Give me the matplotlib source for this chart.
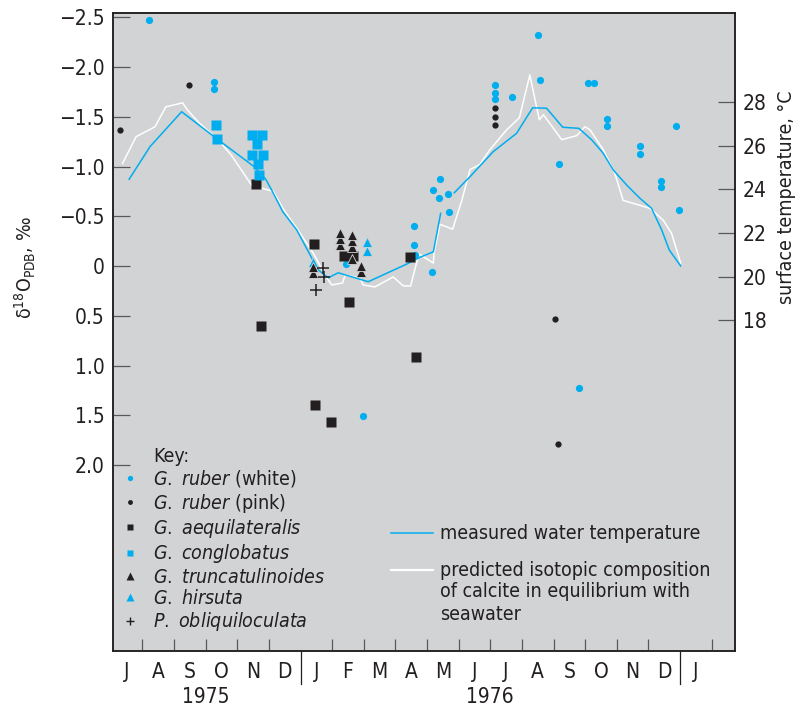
import numpy as np
import matplotlib
matplotlib.use("Agg")
import matplotlib.pyplot as plt
import matplotlib.transforms as mtransforms
from matplotlib import font_manager as fm
from matplotlib.lines import Line2D

# pick a narrow sans face if one is installed, otherwise Liberation Sans
_condensed = [f for f in fm.fontManager.ttflist
              if f.name == "DejaVu Sans" and "ondensed" in (str(f.stretch) + f.fname)]
if _condensed:
    FACE, FS, FS_TXT = "DejaVu Sans", 15, 14
    plt.rcParams["font.stretch"] = "condensed"
    suffix = ":stretch=condensed"
else:
    FACE, FS, FS_TXT = "Liberation Sans", 14, 13
    suffix = ""
plt.rcParams["font.family"] = [FACE, "DejaVu Sans"]
plt.rcParams["mathtext.fontset"] = "custom"
plt.rcParams["mathtext.rm"] = FACE + suffix
plt.rcParams["mathtext.it"] = FACE + ":italic" + suffix
plt.rcParams["mathtext.bf"] = FACE + ":bold" + suffix
plt.rcParams["axes.unicode_minus"] = True

BG = "#d1d3d4"
CYAN = "#00aeef"
INK = "#231f20"
TICK = "#58595b"

# ---- data (x = months since 1 July 1975) ----
month_labels = ["J", "A", "S", "O", "N", "D", "J", "F", "M", "A", "M", "J",
                "J", "A", "S", "O", "N", "D", "J"]
year_labels = ["1975", "1976"]
year_centres = [3, 12]
year_breaks = [6, 18]

d18o_ticks = [-2.5, -2.0, -1.5, -1.0, -0.5, 0, 0.5, 1.0, 1.5, 2.0]
d18o_ticklabels = ["\u22122.5", "\u22122.0", "\u22121.5", "\u22121.0", "\u22120.5",
                   "0", "0.5", "1.0", "1.5", "2.0"]
temp_ticks = [18, 20, 22, 24, 26, 28]

ruber_white_month = [1.22, 3.27, 3.27, 7.44, 7.98, 9.60, 9.60, 9.62, 10.16, 10.19,
                     10.39, 10.41, 10.67, 10.69, 12.15, 12.15, 12.16, 12.70, 13.52, 13.56,
                     14.16, 14.80, 15.08, 15.29, 15.70, 15.70, 16.73, 16.73, 17.40, 17.40,
                     17.88, 17.97]
ruber_white_d18o = [-2.47, -1.85, -1.78, -0.02, 1.51, -0.40, -0.21, -0.11, 0.06, -0.76,
                    -0.68, -0.87, -0.72, -0.54, -1.82, -1.74, -1.68, -1.70, -2.32, -1.87,
                    -1.03, 1.23, -1.84, -1.84, -1.48, -1.41, -1.21, -1.13, -0.85, -0.79,
                    -1.41, -0.56]

ruber_pink_month = [0.29, 2.48, 12.15, 12.15, 12.16, 14.05, 14.15]
ruber_pink_d18o = [-1.37, -1.82, -1.59, -1.50, -1.42, 0.53, 1.79]

aequilateralis_month = [4.60, 4.76, 6.44, 6.47, 6.97, 7.38, 7.67, 7.54, 9.47, 9.66]
aequilateralis_d18o = [-0.82, 0.60, -0.22, 1.40, 1.57, -0.10, -0.10, 0.36, -0.09, 0.91]

conglobatus_month = [3.33, 3.37, 4.48, 4.79, 4.63, 4.48, 4.82, 4.66, 4.70]
conglobatus_d18o = [-1.42, -1.28, -1.32, -1.32, -1.23, -1.12, -1.12, -1.03, -0.91]

truncatulinoides_month = [6.40, 6.40, 7.25, 7.25, 7.25, 7.64, 7.64, 7.64, 7.64, 7.91, 7.91]
truncatulinoides_d18o = [0.01, 0.07, -0.33, -0.27, -0.21, -0.31, -0.25, -0.19, -0.07, 0.00, 0.06]

hirsuta_month = [6.38, 8.09, 8.09]
hirsuta_d18o = [-0.04, -0.24, -0.15]

obliquiloculata_month = [6.70, 6.74, 6.48]
obliquiloculata_d18o = [0.02, 0.11, 0.24]

# measured surface water temperature (deg C)
temp_month = [0.58, 1.24, 2.24, 3.40, 4.53, 4.90, 5.14, 5.44, 5.88, 6.30, 6.56, 6.88,
              7.19, 8.14, 9.36, 9.78, 10.20, 10.43, np.nan, 10.86, 11.36, 12.09, 12.83,
              13.34, 13.78, 14.29, 14.80, 15.21, 15.57, 15.89, 16.31, 16.73, 17.10,
              17.42, 17.66, 18.02]
temp_c = [24.46, 25.95, 27.55, 26.26, 25.04, 24.46, 23.82, 22.97, 22.14, 21.00, 20.31,
          19.95, 20.18, 19.77, 20.58, 20.89, 21.14, 22.90, np.nan, 23.84, 24.58, 25.72,
          26.56, 27.73, 27.71, 26.84, 26.79, 26.26, 25.65, 24.88, 24.20, 23.59, 23.13,
          22.14, 21.22, 20.49]

# predicted equilibrium calcite composition (per mil PDB)
eq_month = [0.37, 0.80, 1.40, 1.74, 2.27, 2.42, 2.82, 3.39, 3.82, 4.46,
            5.14, 5.46, 5.88, 6.40, 6.83, 6.99, 7.33, 7.41, 7.88, 7.98,
            8.35, 8.93, 9.25, 9.48, 9.65, 9.75, 10.20, 10.22, 10.41, 10.81,
            11.10, 11.36, 11.67, 11.99, 12.52, 12.92, 13.25, 13.55, 13.68, 14.26,
            14.73, 14.99, 15.15, 15.57, 15.94, 16.20, 17.05, 17.47, 17.73, 18.02]
eq_d18o = [-1.03, -1.30, -1.40, -1.60, -1.64, -1.57, -1.43, -1.27, -1.11, -0.81,
           -0.75, -0.57, -0.38, -0.13, 0.12, 0.19, 0.17, 0.09, 0.12, 0.19,
           0.21, 0.11, 0.20, 0.20, -0.01, -0.12, -0.03, -0.13, -0.42, -0.37,
           -0.66, -0.97, -1.02, -1.17, -1.37, -1.49, -1.92, -1.47, -1.52, -1.27,
           -1.31, -1.40, -1.37, -1.17, -0.93, -0.66, -0.58, -0.46, -0.33, -0.03]

# ---- figure ----
fig = plt.figure(figsize=(8.10, 7.11), dpi=100)
fig.patch.set_facecolor("white")
ax = fig.add_axes([0.1399, 0.0848, 0.7672, 0.8965])
ax2 = ax.twinx()
ax.set_zorder(ax2.get_zorder() + 1)
ax.patch.set_visible(False)
ax2.patch.set_visible(True)
ax2.patch.set_facecolor(BG)

ax.set_xlim(0.08, 19.73)
ax.set_ylim(3.866, -2.540)
ax2.set_ylim(2.883, 32.055)

# lines live on the lower axes so the markers sit above them
ax2.plot(eq_month, eq_d18o, color="white", lw=1.1, transform=ax.transData, zorder=2)
ax2.plot(temp_month, temp_c, color=CYAN, lw=1.1, zorder=3)

species = [
    ("ruber_white", ruber_white_month, ruber_white_d18o,
     dict(marker="o", ms=5.2, color=CYAN, mec="none"),
     dict(marker="o", ms=3.8, color=CYAN, mec="none"),
     r"$\mathit{G.\ ruber}$ (white)"),
    ("ruber_pink", ruber_pink_month, ruber_pink_d18o,
     dict(marker="o", ms=4.5, color=INK, mec="none"),
     dict(marker="o", ms=3.5, color=INK, mec="none"),
     r"$\mathit{G.\ ruber}$ (pink)"),
    ("aequilateralis", aequilateralis_month, aequilateralis_d18o,
     dict(marker="s", ms=6.6, color=INK, mec="none"),
     dict(marker="s", ms=4.8, color=INK, mec="none"),
     r"$\mathit{G.\ aequilateralis}$"),
    ("conglobatus", conglobatus_month, conglobatus_d18o,
     dict(marker="s", ms=6.6, color=CYAN, mec="none"),
     dict(marker="s", ms=4.8, color=CYAN, mec="none"),
     r"$\mathit{G.\ conglobatus}$"),
    ("hirsuta", hirsuta_month, hirsuta_d18o,
     dict(marker="^", ms=7.5, color=CYAN, mec=BG, mew=0.6),
     dict(marker="^", ms=5.2, color=CYAN, mec="none"),
     r"$\mathit{G.\ hirsuta}$"),
    ("truncatulinoides", truncatulinoides_month, truncatulinoides_d18o,
     dict(marker="^", ms=7.5, color=INK, mec=BG, mew=0.6),
     dict(marker="^", ms=5.2, color=INK, mec="none"),
     r"$\mathit{G.\ truncatulinoides}$"),
    ("obliquiloculata", obliquiloculata_month, obliquiloculata_d18o,
     dict(marker="+", ms=8.0, color=INK, mew=1.1),
     dict(marker="+", ms=6.0, color=INK, mew=1.0),
     r"$\mathit{P.\ obliquiloculata}$"),
]

handles = {}
for z, (key, xs, ys, style, lstyle, label) in enumerate(species):
    order = np.argsort(ys)[::-1]  # lower points first so upper ones overlap them
    xs = np.asarray(xs)[order]
    ys = np.asarray(ys)[order]
    ax.plot(xs, ys, ls="none", zorder=4 + z, **style)
    handles[key] = (Line2D([], [], ls="none", **lstyle), label)

key_order = ["ruber_white", "ruber_pink", "aequilateralis", "conglobatus",
             "truncatulinoides", "hirsuta", "obliquiloculata"]
leg_handles = [Line2D([], [], ls="none")] + [handles[k][0] for k in key_order]
leg_labels = ["Key:"] + [handles[k][1] for k in key_order]
leg1 = ax.legend(leg_handles, leg_labels, loc="upper left",
                 bbox_to_anchor=(0.0113, 0.3196), frameon=False, fontsize=FS_TXT,
                 borderpad=0, borderaxespad=0, handlelength=1.0,
                 handletextpad=0.68, labelspacing=0.12, labelcolor=INK)
ax.add_artist(leg1)

line_handles = [Line2D([], [], color=CYAN, lw=1.1), Line2D([], [], color="white", lw=1.6)]
line_labels = ["measured water temperature", "predicted isotopic composition"]
ax.legend(line_handles, line_labels, loc="upper left",
          bbox_to_anchor=(0.4464, 0.1980), frameon=False, fontsize=FS_TXT,
          borderpad=0, borderaxespad=0, handlelength=2.16,
          handletextpad=0.37, labelspacing=0.92, labelcolor=INK)
ax.text(0.5257, 0.0750, "of calcite in equilibrium with\nseawater", transform=ax.transAxes,
        ha="left", va="center", fontsize=FS_TXT, color=INK, linespacing=1.31)

# ---- axes styling ----
for a in (ax, ax2):
    for s in a.spines.values():
        s.set_color(INK)
        s.set_linewidth(1.1)

ax.set_yticks(d18o_ticks)
ax.set_yticklabels(d18o_ticklabels)
ax.tick_params(axis="y", which="major", direction="in", length=12.2, width=0.9,
               color=TICK, pad=6, labelsize=FS, labelcolor=INK)

ax2.set_yticks(temp_ticks)
ax2.tick_params(axis="y", which="major", direction="in", length=12.2, width=0.9,
                color=TICK, pad=6, labelsize=FS, labelcolor=INK)

month_edges = [m for m in range(1, len(month_labels) + 1) if m not in year_breaks]
ax.set_xticks(month_edges)
ax.set_xticks(np.arange(len(month_labels)) + 0.5, minor=True)
ax.set_xticklabels(month_labels, minor=True)
ax.tick_params(axis="x", which="major", direction="in", length=8.6, width=0.9,
               color=TICK, labelbottom=False)
ax.tick_params(axis="x", which="minor", length=0, pad=8, labelsize=FS, labelcolor=INK)

for b in year_breaks:
    ax.axvline(b, ymin=-0.053, ymax=0, clip_on=False, color=INK, lw=0.9)

xtrans = mtransforms.blended_transform_factory(ax.transData, ax.transAxes)
for lab, c in zip(year_labels, year_centres):
    ax.text(c, -0.0726, lab, transform=xtrans, ha="center", va="center",
            fontsize=FS, color=INK)

fig.text(25 / 810, 1 - 268 / 711, "$\\mathrm{\u03b4}^{18}\\mathrm{O}_{\\mathrm{PDB}}$, \u2030",
         rotation=90, ha="center", va="center", fontsize=FS_TXT, color=INK)
fig.text(786 / 810, 1 - 197 / 711, "surface temperature, \u00b0C",
         rotation=90, ha="center", va="center", fontsize=FS_TXT, color=INK)

fig.savefig("out.png", dpi=100, facecolor="white")
